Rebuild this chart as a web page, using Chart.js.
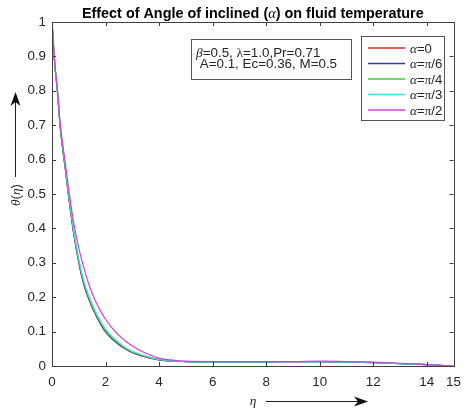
<!DOCTYPE html>
<html>
<head>
<meta charset="utf-8">
<script src="https://cdn.jsdelivr.net/npm/chart.js@4.4.1/dist/chart.umd.min.js"></script>
<style>
  html, body { margin: 0; padding: 0; background: #fff; }
  #wrap { width: 469px; height: 412px; position: relative; }
</style>
</head>
<body>
<div id="wrap"><canvas id="chart"></canvas></div>
<script>
/* ===== Data ===== */
const ETA = [0, 0.1, 0.2, 0.3, 0.4, 0.5, 0.6, 0.8, 1.0, 1.2, 1.4, 1.6, 1.8, 2.0, 2.25, 2.5, 2.75, 3.0, 3.5, 4, 4.5, 5, 6, 7, 8, 9, 10, 11, 12, 13, 14, 14.5, 15];

const THETA_A0 = [1.0, 0.88, 0.80, 0.70, 0.63, 0.57, 0.505, 0.39, 0.30, 0.233, 0.189, 0.153, 0.123, 0.099, 0.078, 0.062, 0.049, 0.039, 0.026, 0.018, 0.014, 0.013, 0.012, 0.012, 0.012, 0.013, 0.013, 0.012, 0.010, 0.007, 0.004, 0.002, 0];
const THETA_PI6 = [1.0, 0.88, 0.80, 0.701, 0.632, 0.572, 0.507, 0.392, 0.302, 0.235, 0.191, 0.155, 0.125, 0.100, 0.079, 0.063, 0.050, 0.040, 0.027, 0.018, 0.014, 0.013, 0.012, 0.012, 0.012, 0.013, 0.013, 0.012, 0.010, 0.007, 0.004, 0.002, 0];
const THETA_PI4 = [1.0, 0.881, 0.801, 0.703, 0.635, 0.575, 0.51, 0.396, 0.306, 0.239, 0.194, 0.158, 0.128, 0.103, 0.082, 0.065, 0.051, 0.041, 0.028, 0.019, 0.014, 0.013, 0.012, 0.012, 0.012, 0.013, 0.013, 0.012, 0.010, 0.007, 0.004, 0.002, 0];
const THETA_PI3 = [1.0, 0.882, 0.802, 0.705, 0.638, 0.579, 0.515, 0.401, 0.311, 0.244, 0.199, 0.162, 0.132, 0.107, 0.085, 0.068, 0.053, 0.042, 0.029, 0.019, 0.015, 0.013, 0.012, 0.012, 0.012, 0.013, 0.013, 0.012, 0.010, 0.007, 0.004, 0.002, 0];
const THETA_PI2 = [1.0, 0.885, 0.805, 0.71, 0.645, 0.587, 0.527, 0.422, 0.343, 0.283, 0.232, 0.193, 0.161, 0.136, 0.110, 0.089, 0.072, 0.058, 0.037, 0.023, 0.017, 0.014, 0.013, 0.013, 0.013, 0.013, 0.014, 0.013, 0.011, 0.008, 0.004, 0.002, 0];

const SERIES_LABELS = ["α=0", "α=π/6", "α=π/4", "α=π/3", "α=π/2"];
const SERIES_VALUES = [THETA_A0, THETA_PI6, THETA_PI4, THETA_PI3, THETA_PI2];

const X_TICKS = [0, 2, 4, 6, 8, 10, 12, 14, 15];
const Y_TICKS = [0, 0.1, 0.2, 0.3, 0.4, 0.5, 0.6, 0.7, 0.8, 0.9, 1];

const TITLE = "Effect of Angle of inclined (α) on fluid temperature";
const NOTE_LINES = ["β=0.5, λ=1.0,Pr=0.71", " A=0.1, Ec=0.36, M=0.5"];

/* ===== Styles ===== */
const COLORS = ["#d42a2a", "#3a3a9c", "#3ccc3c", "#3cdcdc", "#dc3cdc"];
const AXIS_COLOR = "#404040";
const TEXT_COLOR = "#262626";
const SANS = "'Liberation Sans', Arial, sans-serif";
const SERIF = "'Liberation Serif', 'DejaVu Serif', serif";
const ITALIC_GREEK = "αβθη";
const UPRIGHT_GREEK = "λπ";

/* ===== Helpers ===== */
// split a string into runs: greek letters in serif, the rest in sans
function richRuns(text, size, bold) {
  const runs = [];
  for (const ch of text) {
    let font;
    if (ITALIC_GREEK.includes(ch)) font = `italic ${size}px ${SERIF}`;
    else if (UPRIGHT_GREEK.includes(ch)) font = `${size}px ${SERIF}`;
    else font = `${bold ? "bold " : ""}${size}px ${SANS}`;
    const last = runs[runs.length - 1];
    if (last && last.font === font) last.text += ch;
    else runs.push({ text: ch, font });
  }
  return runs;
}

function richWidth(ctx, runs) {
  let w = 0;
  runs.forEach((r) => { ctx.font = r.font; w += ctx.measureText(r.text).width; });
  return w;
}

function drawRich(ctx, text, x, y, size, opts = {}) {
  const runs = richRuns(text, size, opts.bold);
  let cx = x;
  if (opts.align === "center") cx = x - richWidth(ctx, runs) / 2;
  ctx.textBaseline = "alphabetic";
  ctx.textAlign = "left";
  runs.forEach((r) => {
    ctx.font = r.font;
    ctx.fillText(r.text, cx, y);
    cx += ctx.measureText(r.text).width;
  });
}

function arrowHead(ctx, tipX, tipY, dir) {
  // dir: "up" or "right"; barbed MATLAB style head
  ctx.beginPath();
  if (dir === "up") {
    ctx.moveTo(tipX, tipY);
    ctx.lineTo(tipX - 5, tipY + 14);
    ctx.lineTo(tipX, tipY + 10);
    ctx.lineTo(tipX + 5, tipY + 14);
  } else {
    ctx.moveTo(tipX, tipY);
    ctx.lineTo(tipX - 14, tipY - 5);
    ctx.lineTo(tipX - 10, tipY);
    ctx.lineTo(tipX - 14, tipY + 5);
  }
  ctx.closePath();
  ctx.fill();
}

/* ===== Decorations plugin ===== */
const decorPlugin = {
  id: "decor",
  afterDraw(chart) {
    const ctx = chart.ctx;
    const area = chart.chartArea;
    const xs = chart.scales.x;
    const ys = chart.scales.y;
    ctx.save();

    // axes box with inward ticks on all four sides
    ctx.strokeStyle = AXIS_COLOR;
    ctx.lineWidth = 1;
    ctx.strokeRect(Math.round(area.left) + 0.5, Math.round(area.top) + 0.5,
      Math.round(area.right - area.left), Math.round(area.bottom - area.top));
    ctx.beginPath();
    X_TICKS.forEach((v) => {
      const px = Math.round(xs.getPixelForValue(v)) + 0.5;
      ctx.moveTo(px, area.bottom); ctx.lineTo(px, area.bottom - 4);
      ctx.moveTo(px, area.top); ctx.lineTo(px, area.top + 4);
    });
    Y_TICKS.forEach((v) => {
      const py = Math.round(ys.getPixelForValue(v)) + 0.5;
      ctx.moveTo(area.left, py); ctx.lineTo(area.left + 4, py);
      ctx.moveTo(area.right, py); ctx.lineTo(area.right - 4, py);
    });
    ctx.stroke();

    // title
    ctx.fillStyle = "#000";
    drawRich(ctx, TITLE, (area.left + area.right) / 2, 17.5, 14.4, { bold: true, align: "center" });

    // parameter note box
    ctx.fillStyle = "#fff";
    ctx.fillRect(191, 39, 160, 40);
    ctx.strokeStyle = "#555";
    ctx.strokeRect(191.5, 39.5, 160, 40);
    ctx.fillStyle = TEXT_COLOR;
    drawRich(ctx, NOTE_LINES[0], 196, 56.5, 13.4);
    drawRich(ctx, NOTE_LINES[1], 196, 68, 13.4);

    // legend
    ctx.fillStyle = "#fff";
    ctx.fillRect(361, 36, 84, 85);
    ctx.strokeStyle = "#555";
    ctx.strokeRect(361.5, 36.5, 83, 84);
    SERIES_LABELS.forEach((label, i) => {
      const y = 48 + i * 15.5;
      ctx.strokeStyle = COLORS[i];
      ctx.lineWidth = 1.3;
      ctx.beginPath();
      ctx.moveTo(368, y);
      ctx.lineTo(405, y);
      ctx.stroke();
      ctx.fillStyle = TEXT_COLOR;
      drawRich(ctx, label, 410, y + 4.5, 13.2);
    });

    // y label with upward arrow
    ctx.fillStyle = TEXT_COLOR;
    ctx.save();
    ctx.translate(19.5, 195);
    ctx.rotate(-Math.PI / 2);
    drawRich(ctx, "θ(η)", 0, 0, 13.4, { align: "center" });
    ctx.restore();
    ctx.strokeStyle = "#222";
    ctx.lineWidth = 1;
    ctx.beginPath();
    ctx.moveTo(15.5, 177);
    ctx.lineTo(15.5, 100);
    ctx.stroke();
    ctx.fillStyle = "#111";
    arrowHead(ctx, 15.5, 92, "up");

    // x label with rightward arrow
    ctx.fillStyle = TEXT_COLOR;
    drawRich(ctx, "η", 253, 405, 13.4, { align: "center" });
    ctx.strokeStyle = "#222";
    ctx.beginPath();
    ctx.moveTo(266, 401.5);
    ctx.lineTo(360, 401.5);
    ctx.stroke();
    ctx.fillStyle = "#111";
    arrowHead(ctx, 368, 401.5, "right");

    ctx.restore();
  },
};

/* ===== Chart ===== */
const datasets = SERIES_VALUES.map((vals, i) => ({
  label: SERIES_LABELS[i],
  data: ETA.map((x, j) => ({ x, y: vals[j] })),
  borderColor: COLORS[i],
  borderWidth: 1.2,
  pointRadius: 0,
  fill: false,
  cubicInterpolationMode: "monotone",
  order: SERIES_LABELS.length - 1 - i,
}));

const tickFont = { family: SANS, size: 13.4 };

new Chart(document.getElementById("chart"), {
  type: "line",
  data: { datasets },
  options: {
    responsive: true,
    maintainAspectRatio: false,
    animation: false,
    devicePixelRatio: 1,
    layout: { padding: { top: 22, right: 8, left: 0, bottom: 0 } },
    plugins: { legend: { display: false }, tooltip: { enabled: false }, title: { display: false } },
    scales: {
      x: {
        type: "linear",
        min: 0,
        max: 15,
        grid: { display: false, drawTicks: false },
        border: { display: false },
        ticks: { padding: 8, font: tickFont, color: TEXT_COLOR, maxRotation: 0, autoSkip: false },
        afterBuildTicks: (s) => { s.ticks = X_TICKS.map((v) => ({ value: v })); },
        afterFit: (s) => { s.height = 46; },
      },
      y: {
        type: "linear",
        min: 0,
        max: 1,
        grid: { display: false, drawTicks: false },
        border: { display: false },
        ticks: {
          padding: 6,
          font: tickFont,
          color: TEXT_COLOR,
          autoSkip: false,
          callback: (v) => String(Math.round(v * 10) / 10),
        },
        afterBuildTicks: (s) => { s.ticks = Y_TICKS.map((v) => ({ value: v })); },
        afterFit: (s) => { s.width = 52; },
      },
    },
  },
  plugins: [decorPlugin],
});
</script>
</body>
</html>
